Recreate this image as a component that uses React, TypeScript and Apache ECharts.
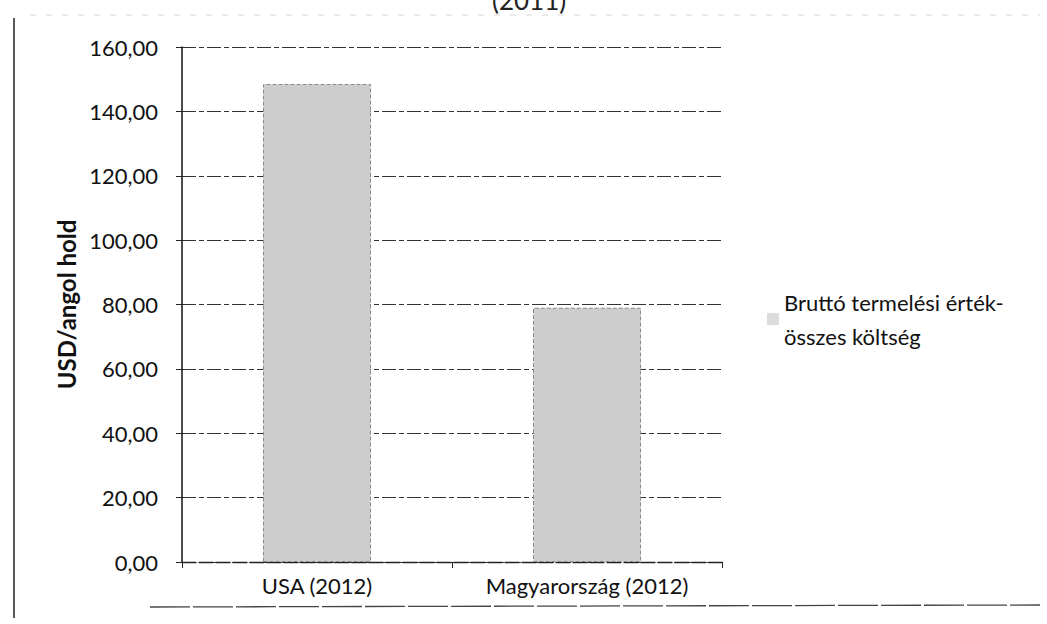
import React, { useEffect, useRef } from "react";
import * as echarts from "echarts";

const categories = ["USA (2012)", "Magyarország (2012)"];
const values = [148.5, 79];
const seriesName = "Bruttó termelési érték-\nösszes költség";
const yMin = 0;
const yMax = 160;
const yInterval = 20;
const yAxisName = "USD/angol hold";
const titleText = "(2011)";

const FONT = "Lato, 'Open Sans', sans-serif";

export default function App() {
  const ref = useRef<HTMLDivElement>(null);
  useEffect(() => {
    if (!ref.current) return;
    const chart = echarts.init(ref.current, undefined, { renderer: "svg" });
    chart.setOption({
      animation: false,
      backgroundColor: "#ffffff",
      textStyle: { fontFamily: FONT },
      grid: { left: 182, right: 325, top: 47, bottom: 62, containLabel: false },
      legend: {
        show: true,
        orient: "vertical",
        left: 762,
        top: 280,
        itemWidth: 12,
        itemHeight: 12,
        itemGap: 8,
        icon: "rect",
        textStyle: { fontFamily: FONT, fontSize: 22, color: "#111", lineHeight: 34 },
        data: [{ name: seriesName, itemStyle: { color: "#dcdcdc", borderWidth: 0 } }],
      },
      xAxis: {
        type: "category",
        data: categories,
        axisLine: { show: true, lineStyle: { color: "#222", width: 1.3, type: [14, 3] } },
        axisTick: { show: true, length: 6, lineStyle: { color: "#222" } },
        axisLabel: { fontFamily: FONT, fontSize: 22, color: "#111", margin: 12 },
        splitLine: { show: false },
      },
      yAxis: {
        type: "value",
        min: yMin,
        max: yMax,
        interval: yInterval,
        name: yAxisName,
        nameLocation: "middle",
        nameGap: 104,
        nameRotate: 90,
        nameTextStyle: { fontFamily: FONT, fontSize: 24, fontWeight: "bold", color: "#111" },
        axisLine: { show: true, lineStyle: { color: "#111", width: 1.5 } },
        axisTick: { show: true, length: 6, lineStyle: { color: "#222" } },
        axisLabel: {
          fontFamily: FONT,
          fontSize: 22,
          color: "#111",
          margin: 24,
          formatter: (v: number) => v.toFixed(2).replace(".", ","),
        },
        splitLine: { show: true, lineStyle: { color: "#333", width: 1.2, type: [14, 3, 5, 3] } },
      },
      series: [
        {
          name: seriesName,
          type: "bar",
          data: values,
          barWidth: "40%",
          itemStyle: {
            color: "#cdcdcd",
            borderColor: "#8a8a8a",
            borderWidth: 1,
            borderType: "dashed",
          },
        },
      ],
      graphic: [
        {
          type: "text",
          left: 492,
          top: -13,
          style: { text: titleText, fontFamily: FONT, fontSize: 26, fill: "#222" },
        },
        {
          type: "line",
          shape: { x1: 30, y1: 15, x2: 1040, y2: 15 },
          style: { stroke: "#d6d6d6", lineWidth: 1, lineDash: [6, 10] },
        },
        {
          type: "line",
          shape: { x1: 14, y1: 18, x2: 14, y2: 618 },
          style: { stroke: "#222", lineWidth: 1.5 },
        },
        {
          type: "line",
          shape: { x1: 150, y1: 607, x2: 1040, y2: 605 },
          style: { stroke: "#444", lineWidth: 1.3, lineDash: [40, 3] },
        },
      ],
    });
    return () => chart.dispose();
  }, []);
  return (
    <div
      ref={ref}
      style={{ position: "fixed", left: 0, top: 0, width: 1047, height: 624, background: "#fff" }}
    />
  );
}
